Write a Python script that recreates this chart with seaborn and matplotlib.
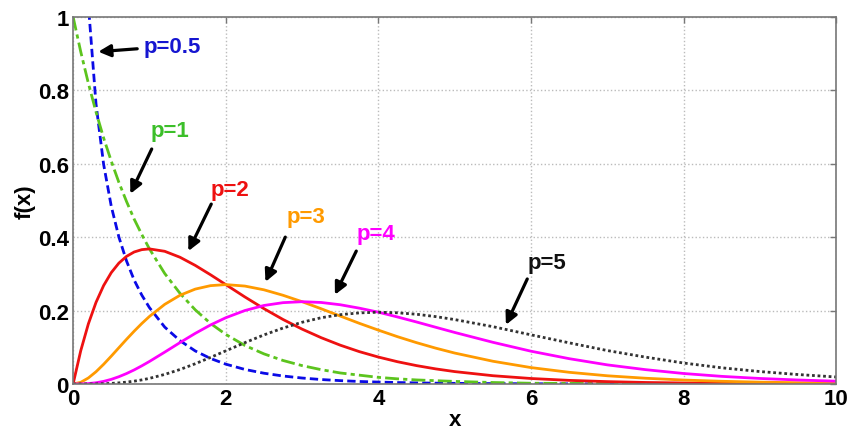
import numpy as np
import pandas as pd
import matplotlib
matplotlib.use("Agg")
import matplotlib.pyplot as plt
import seaborn as sns

# shared x grid (finer where the curves bend most)
x = [0, 0.1, 0.2, 0.3, 0.4, 0.5, 0.6, 0.7, 0.8, 0.9, 1.0, 1.2, 1.4, 1.6, 1.8, 2.0,
     2.25, 2.5, 2.75, 3.0, 3.25, 3.5, 3.75, 4.0, 4.25, 4.5, 4.75, 5.0,
     5.5, 6.0, 6.5, 7.0, 7.5, 8.0, 8.5, 9.0, 9.5, 10.0]

f_p05 = [np.nan, 1.614, 1.033, 0.763, 0.598, 0.484, 0.400, 0.335, 0.283, 0.242, 0.208,
         0.155, 0.118, 0.090, 0.0695, 0.054, 0.0396, 0.0293, 0.0217, 0.0162, 0.0121,
         0.0091, 0.0068, 0.0052, 0.0039, 0.0030, 0.0022, 0.0017, 0.0010, 0.0006,
         0.0003, 0.0002, 0.0001, 0.0001, 0.0, 0.0, 0.0, 0.0]
f_p1 = [1.0, 0.905, 0.819, 0.741, 0.670, 0.607, 0.549, 0.497, 0.449, 0.407, 0.368,
        0.301, 0.247, 0.202, 0.165, 0.135, 0.105, 0.082, 0.064, 0.050, 0.039, 0.030,
        0.024, 0.018, 0.014, 0.011, 0.009, 0.007, 0.004, 0.002, 0.0015, 0.0009,
        0.0006, 0.0003, 0.0002, 0.0001, 0.0001, 0.0]
f_p2 = [0.0, 0.0905, 0.1637, 0.2222, 0.2681, 0.3033, 0.3293, 0.3476, 0.3595, 0.3659,
        0.3679, 0.3614, 0.3452, 0.3230, 0.2975, 0.2707, 0.2371, 0.2052, 0.1757, 0.1494,
        0.1261, 0.1057, 0.0881, 0.0733, 0.0606, 0.0500, 0.0411, 0.0337, 0.0225, 0.0149,
        0.0098, 0.0064, 0.0041, 0.0027, 0.0017, 0.0011, 0.0007, 0.0005]
f_p3 = [0.0, 0.0045, 0.0164, 0.0333, 0.0536, 0.0758, 0.0988, 0.1217, 0.1438, 0.1647,
        0.1839, 0.2168, 0.2416, 0.2584, 0.2678, 0.2707, 0.2667, 0.2565, 0.2416, 0.2241,
        0.2049, 0.1850, 0.1652, 0.1466, 0.1288, 0.1125, 0.0976, 0.0842, 0.0619, 0.0446,
        0.0318, 0.0223, 0.0156, 0.0107, 0.0073, 0.0050, 0.0034, 0.0023]
f_p4 = [0.0, 0.00015, 0.0011, 0.0033, 0.0071, 0.0126, 0.0198, 0.0284, 0.0383, 0.0494,
        0.0613, 0.0867, 0.1127, 0.1378, 0.1607, 0.1804, 0.2000, 0.2138, 0.2215, 0.2241,
        0.2220, 0.2158, 0.2065, 0.1955, 0.1825, 0.1688, 0.1545, 0.1403, 0.1135, 0.0892,
        0.0689, 0.0520, 0.0390, 0.0285, 0.0207, 0.0150, 0.0108, 0.0076]
f_p5 = [0.0, 0.0, 0.00006, 0.0002, 0.0007, 0.0016, 0.0030, 0.0050, 0.0077, 0.0111,
        0.0153, 0.0260, 0.0394, 0.0551, 0.0723, 0.0902, 0.1125, 0.1336, 0.1523, 0.1681,
        0.1804, 0.1888, 0.1936, 0.1955, 0.1939, 0.1899, 0.1835, 0.1754, 0.1561, 0.1338,
        0.1120, 0.0910, 0.0731, 0.0570, 0.0440, 0.0338, 0.0257, 0.0190]

labels = ["p=0.5", "p=1", "p=2", "p=3", "p=4", "p=5"]
series = [f_p05, f_p1, f_p2, f_p3, f_p4, f_p5]
xticks = [0, 2, 4, 6, 8, 10]
yticks = [0, 0.2, 0.4, 0.6, 0.8, 1.0]
yticklabels = ["0", "0.2", "0.4", "0.6", "0.8", "1"]

colors = ["#0a0ae6", "#5cc41e", "#ee1111", "#ff9a00", "#ff00ff", "#333333"]
text_colors = ["#1515d0", "#3cbf2a", "#ee1111", "#ff9a00", "#ff00ff", "#111111"]
styles = [(0, (3, 1.5)), (0, (5, 1.5, 1.5, 1.5)), "-", "-", "-", (0, (1, 1))]

# text position (left, center) and arrow tail/head, in data coordinates
text_pos = [(0.92, 0.918), (1.01, 0.69), (1.80, 0.531), (2.80, 0.455), (3.72, 0.409), (5.95, 0.332)]
arrow_tail = [(0.84, 0.913), (1.03, 0.64), (1.81, 0.49), (2.78, 0.40), (3.71, 0.362), (5.95, 0.286)]
arrow_head = [(0.33, 0.905), (0.75, 0.518), (1.51, 0.362), (2.52, 0.278), (3.43, 0.243), (5.67, 0.161)]

sns.set_style("whitegrid")
plt.rcParams["font.family"] = ["Liberation Sans", "DejaVu Sans"]
plt.rcParams["font.weight"] = "bold"

fig = plt.figure(figsize=(8.5, 4.35), dpi=100)
ax = fig.add_axes([0.086, 0.115, 0.898, 0.844])

for lab, y, c, ls in zip(labels, series, colors, styles):
    sns.lineplot(x=x, y=y, ax=ax, color=c, linestyle=ls, linewidth=2, sort=False)

for lab, tc, tp, at, ah in zip(labels, text_colors, text_pos, arrow_tail, arrow_head):
    ax.annotate("", xy=ah, xytext=at,
                arrowprops=dict(arrowstyle="-|>", color="black", lw=2.3, mutation_scale=18,
                                shrinkA=0, shrinkB=0))
    ax.text(tp[0], tp[1], lab, color=tc, fontsize=16, fontweight="bold",
            ha="left", va="center")

ax.set_xlim(0, 10)
ax.set_ylim(0, 1)
ax.set_xticks(xticks)
ax.set_xticklabels([str(t) for t in xticks])
ax.set_yticks(yticks)
ax.set_yticklabels(yticklabels)
ax.tick_params(direction="in", top=True, right=True, length=4, width=1,
               color="#777777", labelcolor="black", labelsize=16, pad=3)
for t in ax.get_xticklabels() + ax.get_yticklabels():
    t.set_fontweight("bold")
ax.grid(True, linestyle=":", color="#bbbbbb", linewidth=1)
for s in ax.spines.values():
    s.set_color("#777777")
    s.set_linewidth(1.2)

ax.set_xlabel("x", fontsize=16, fontweight="bold", labelpad=0, color="black")
ax.set_ylabel("f(x)", fontsize=16, fontweight="bold", labelpad=2, color="black")

plt.savefig("out.png", dpi=100)
plt.close(fig)
